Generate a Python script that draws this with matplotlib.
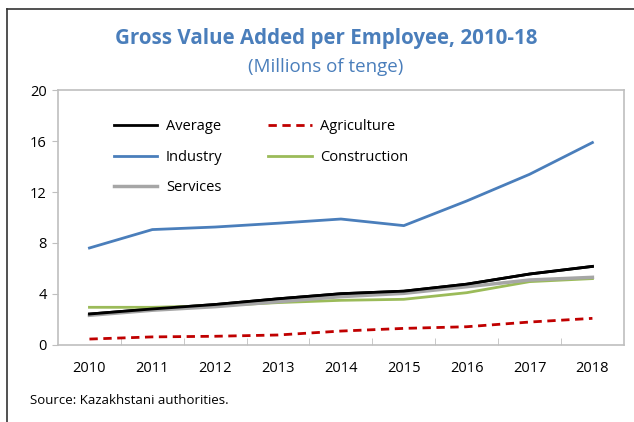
import matplotlib
matplotlib.use('Agg')
import matplotlib.pyplot as plt
from matplotlib.lines import Line2D

plt.rcParams['font.family'] = ['Open Sans', 'DejaVu Sans']

years = ['2010', '2011', '2012', '2013', '2014', '2015', '2016', '2017', '2018']
average = [2.4, 2.8, 3.15, 3.6, 4.0, 4.2, 4.75, 5.55, 6.15]
agriculture = [0.43, 0.6, 0.65, 0.75, 1.06, 1.27, 1.4, 1.77, 2.06]
industry = [7.6, 9.05, 9.25, 9.55, 9.88, 9.36, 11.3, 13.4, 15.9]
construction = [2.93, 2.93, 3.05, 3.3, 3.48, 3.56, 4.08, 4.95, 5.19]
services = [2.3, 2.7, 2.98, 3.37, 3.77, 4.03, 4.55, 5.08, 5.29]

x = list(range(len(years)))

fig = plt.figure(figsize=(6.34, 4.22), dpi=100)
ax = fig.add_axes([0.0915, 0.1836, 0.8925, 0.602])

h_avg, = ax.plot(x, average, color='black', lw=2, label='Average')
h_agr, = ax.plot(x, agriculture, color='#C00000', lw=2, ls=(0, (3, 2)), label='Agriculture')
h_ind, = ax.plot(x, industry, color='#4A7EBB', lw=2, label='Industry')
h_con, = ax.plot(x, construction, color='#9BBB59', lw=2, label='Construction')
h_ser, = ax.plot(x, services, color='#A6A6A6', lw=2.5, label='Services')
# redraw average on top like the original
ax.plot(x, average, color='black', lw=2)

ax.set_xlim(-0.5, 8.5)
ax.set_ylim(0, 20)
ax.set_yticks(range(0, 21, 4))
ax.set_xticks(x)
ax.set_xticklabels(years)
ax.set_xticks([i + 0.5 for i in range(8)], minor=True)
ax.tick_params(axis='x', which='major', length=0, pad=12, labelsize=10.5)
ax.tick_params(axis='x', which='minor', direction='in', length=5, color='#BFBFBF')
ax.tick_params(axis='y', direction='out', length=4, color='#BFBFBF', labelsize=10.5, pad=4)
for s in ax.spines.values():
    s.set_color('#BFBFBF')
    s.set_linewidth(1.2)

# row-wise order: matplotlib fills columns first
handles = [h_avg, h_ind, h_ser, h_agr, h_con]
ax.legend(handles=handles, labels=[h.get_label() for h in handles],
          loc='upper left', bbox_to_anchor=(0.075, 0.938), ncol=2, frameon=False,
          fontsize=10.5, handlelength=3.0, columnspacing=3.1, labelspacing=1.05,
          handletextpad=0.6)

fig.text(0.514, 0.908, 'Gross Value Added per Employee, 2010-18', ha='center', va='center',
         fontsize=14.8, fontweight='bold', color='#4A7EBB')
fig.text(0.514, 0.842, '(Millions of tenge)', ha='center', va='center',
         fontsize=13.5, color='#4A7EBB')
fig.text(0.047, 0.052, 'Source: Kazakhstani authorities.', ha='left', va='center',
         fontsize=9.5, color='black')

# border on top and left like the original crop
fig.add_artist(Line2D([0.011, 1.0], [0.979, 0.979], color='#333333', lw=1.2))
fig.add_artist(Line2D([0.011, 0.011], [0.0, 0.979], color='#333333', lw=1.2))

fig.savefig('out.png', dpi=100)
